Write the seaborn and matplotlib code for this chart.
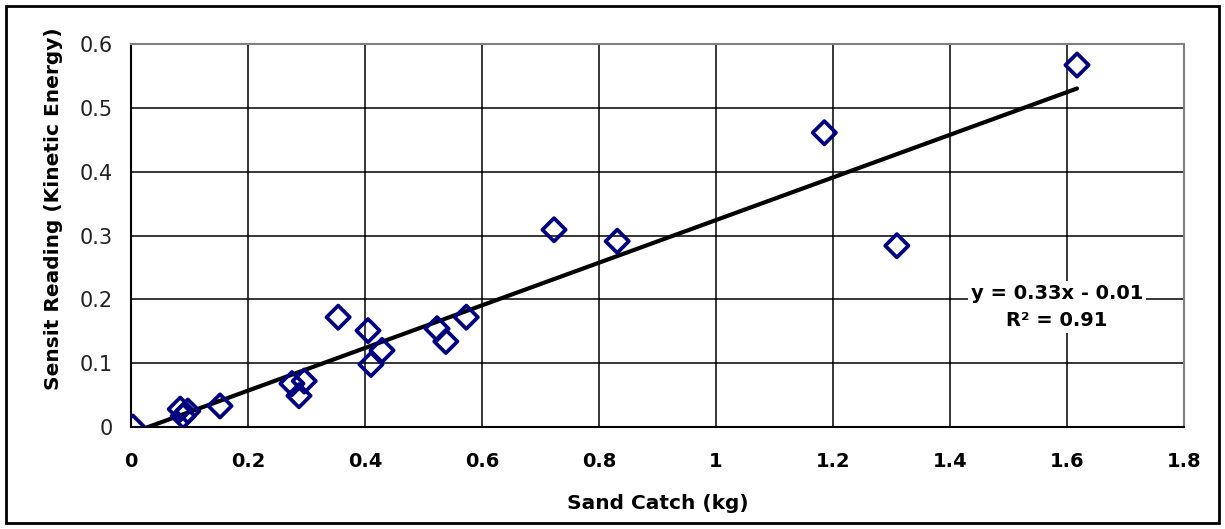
"""
Sensit reading vs sand catch scatter with linear trendline
"""

import matplotlib.pyplot as plt
import seaborn as sns
import pandas as pd
from matplotlib.patches import Rectangle

# values
sand_catch = [0.003, 0.084, 0.089, 0.097, 0.152, 0.275, 0.287, 0.296, 0.354, 0.405,
              0.410, 0.429, 0.523, 0.538, 0.573, 0.723, 0.831, 1.185, 1.309, 1.617]
sensit = [0.0, 0.028, 0.017, 0.025, 0.033, 0.068, 0.049, 0.072, 0.172, 0.151,
          0.098, 0.120, 0.154, 0.134, 0.172, 0.309, 0.291, 0.461, 0.284, 0.567]
x_ticks = [0, 0.2, 0.4, 0.6, 0.8, 1, 1.2, 1.4, 1.6, 1.8]
y_ticks = [0, 0.1, 0.2, 0.3, 0.4, 0.5, 0.6]
eq_label = 'y = 0.33x - 0.01\nR² = 0.91'

df = pd.DataFrame({'sand': sand_catch, 'sensit': sensit})

sns.set_style('white')
plt.rcParams['font.family'] = ['DejaVu Sans']
plt.rcParams['text.color'] = 'black'
plt.rcParams['axes.labelcolor'] = 'black'
plt.rcParams['xtick.color'] = 'black'
plt.rcParams['ytick.color'] = 'black'

fig = plt.figure(figsize=(12.25, 5.29), dpi=100)
ax = fig.add_axes([0.107, 0.1928, 0.8596, 0.724])

# trendline first so markers sit on top
sns.regplot(data=df, x='sand', y='sensit', ax=ax, scatter=False, ci=None,
            line_kws={'color': 'black', 'lw': 3, 'zorder': 2})
sns.scatterplot(data=df, x='sand', y='sensit', ax=ax, marker='D', s=140,
                facecolor='none', edgecolor='#000080', linewidth=2.7, zorder=3)

ax.set_xlim(0, 1.8)
ax.set_ylim(0, 0.6)
ax.set_xticks(x_ticks)
ax.set_yticks(y_ticks)
ax.set_xticklabels([f'{t:g}' for t in x_ticks], fontweight='bold', fontsize=14)
ax.set_yticklabels([f'{t:g}' for t in y_ticks], fontsize=15, color='#222222')
ax.tick_params(axis='both', direction='out', length=5, width=1.2, color='black')
ax.tick_params(axis='x', pad=13)
ax.tick_params(axis='y', pad=8)
ax.grid(True, color='black', lw=1.1)
for side, sp in ax.spines.items():
    sp.set_color('black' if side in ('left', 'bottom') else '#808080')
    sp.set_linewidth(1.5)

ax.set_xlabel('Sand Catch (kg)', fontweight='bold', fontsize=14.5)
ax.set_ylabel('Sensit Reading (Kinetic Energy)', fontweight='bold', fontsize=14.5)
ax.xaxis.label.set_va('center')
ax.yaxis.label.set_va('center')
ax.xaxis.set_label_coords(0.5, -0.201)
ax.yaxis.set_label_coords(-0.074, 0.569)

ax.text(1.583, 0.188, eq_label, ha='center', va='center', fontsize=14, fontweight='bold',
        linespacing=1.5, zorder=4,
        bbox=dict(boxstyle='square,pad=0.15', facecolor='white', edgecolor='none'))

# outer chart border
fig.patches.append(Rectangle((0.005, 0.011), 0.99, 0.978, transform=fig.transFigure,
                             fill=False, edgecolor='black', lw=2))

fig.savefig('out.png', dpi=100)
